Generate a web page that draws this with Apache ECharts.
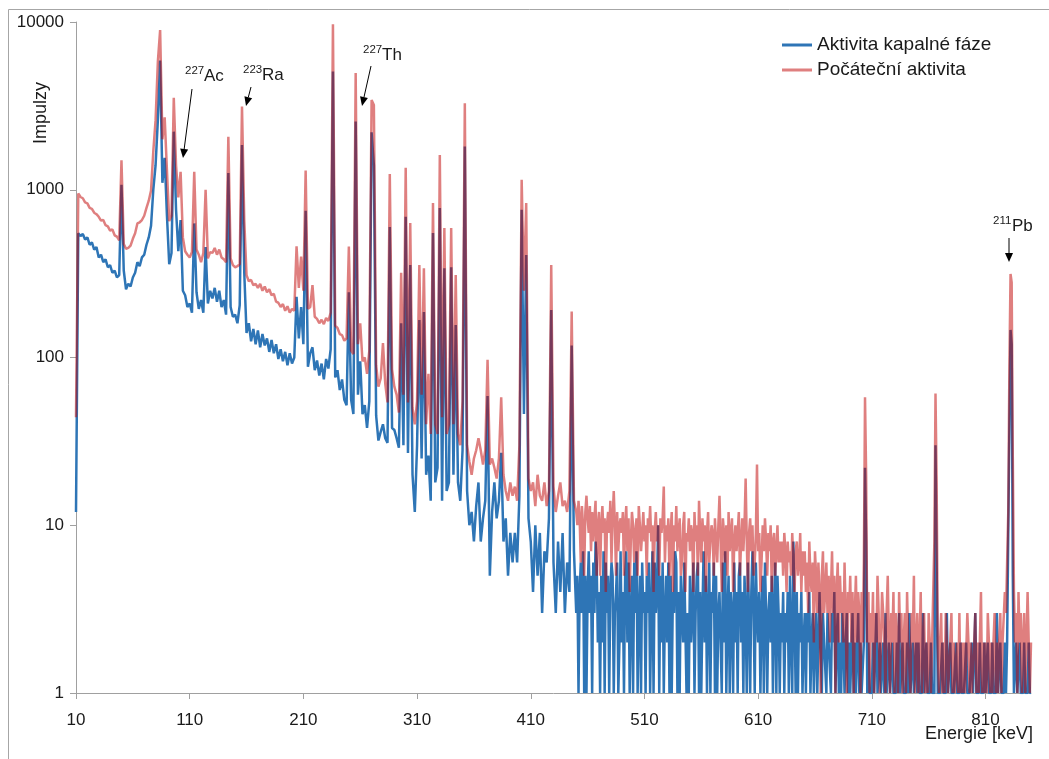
<!DOCTYPE html>
<html>
<head>
<meta charset="utf-8">
<script src="https://cdn.jsdelivr.net/npm/echarts/dist/echarts.min.js"></script>
<style>
  html, body { margin: 0; padding: 0; background: #fff; }
  #chart { width: 1049px; height: 759px; }
</style>
</head>
<body>
<div id="chart"></div>
<script>
const seriesNames = ['Aktivita kapalné fáze', 'Počáteční aktivita'];
const xTicks = [10, 110, 210, 310, 410, 510, 610, 710, 810]; // keV
const yTicks = [1, 10, 100, 1000, 10000];

// 10-448 keV read every 2 keV, 450-850 keV every 1 keV (noisy part)
const lowStart = 10, lowStep = 2;
const highStart = 450, highStep = 1;

const kapalnaLow = [
  12, 550, 530, 545, 505, 520, 470, 485, 440, 455,          // 10
  395, 410, 370, 385, 345, 355, 320, 330, 300, 310,         // 30
  1070, 330, 255, 275, 265, 300, 320, 370, 350, 395,        // 50
  410, 470, 520, 610, 1000, 1400, 2600, 5900, 1100, 1550,   // 70
  700, 360, 420, 2220, 760, 430, 660, 250, 235, 200,        // 90
  210, 185, 630, 245, 195, 220, 185, 455, 210, 250,         // 110
  225, 260, 215, 250, 200, 220, 180, 1260, 200, 175,        // 130
  180, 160, 205, 1850, 320, 140, 160, 125, 148, 120,        // 150
  145, 115, 138, 118, 130, 108, 127, 106, 120, 98,          // 170
  112, 95, 108, 90, 106, 92, 100, 230, 130, 200,            // 190
  120, 750, 88, 106, 115, 84, 96, 78, 92, 74,               // 210
  98, 86, 112, 5060, 76, 84, 64, 74, 56, 52,                // 230
  245, 56, 46, 2550, 60, 95, 46, 52, 38, 55,                // 250
  2200, 1400, 45, 32, 36, 40, 33, 31, 600, 38,              // 270
  37, 33, 29, 160, 30, 690, 27, 356, 20, 12,                // 290
  30, 167, 25, 187, 20, 26, 14, 552, 18, 22,                // 310
  778, 14, 340, 16, 18, 345, 20, 156, 18, 14,               // 330
  28, 1810, 16, 10, 12, 8, 13, 18, 8, 11,                   // 350
  14, 59, 5, 12, 18, 11, 14, 27, 8, 11,                     // 370
  5, 9, 6, 9, 6, 15, 760, 46, 408, 11,                      // 390
  8, 4, 10, 5, 9, 3, 7, 6, 11, 192,                         // 410
  6, 3, 8, 4, 9, 3, 6, 4, 118, 7                            // 430
];

const kapalnaHigh = [
  3, 5, 1, 4, 6, 3, 7, 1, 5, 1, 4, 7, 3, 5, 1, 6, 3, 8, 6, 2,          // 450
  4, 1, 5, 2, 7, 1, 6, 3, 5, 1, 4, 6, 5, 1, 3, 4, 6, 1, 2, 7,          // 470
  2, 4, 1, 5, 7, 2, 6, 1, 3, 5, 1, 6, 3, 7, 1, 3, 5, 1, 6, 3,          // 490
  4, 1, 5, 3, 6, 1, 3, 7, 1, 6, 3, 4, 10, 1, 5, 2, 6, 1, 3, 5,         // 510
  2, 6, 1, 5, 1, 4, 3, 7, 6, 1, 4, 1, 5, 3, 2, 6, 6, 1, 3, 1,          // 530
  5, 2, 3, 6, 1, 3, 5, 6, 1, 4, 1, 3, 7, 2, 5, 1, 3, 6, 1, 4,          // 550
  3, 6, 1, 5, 1, 3, 4, 2, 1, 6, 2, 7, 1, 3, 5, 1, 4, 3, 1, 6,          // 570
  2, 4, 1, 5, 6, 2, 4, 1, 5, 3, 1, 6, 3, 1, 4, 7, 3, 1, 6, 3,          // 590
  2, 4, 1, 3, 5, 1, 6, 3, 1, 3, 4, 2, 5, 1, 3, 6, 1, 5, 3, 1,          // 610
  3, 2, 4, 1, 3, 2, 4, 1, 5, 2, 1, 8, 3, 1, 4, 1, 3, 2, 4, 1,          // 630
  2, 3, 1, 3, 2, 4, 1, 2, 3, 1, 2, 3, 1, 2, 4, 2, 1, 3, 2, 2,          // 650
  1, 3, 2, 2, 1, 3, 2, 4, 1, 2, 3, 1, 2, 1, 3, 2, 1, 2, 3, 1,          // 670
  2, 1, 1, 3, 1, 2, 1, 1, 3, 1, 2, 1, 1, 2, 22, 8, 1, 2, 1, 1,         // 690
  1, 2, 1, 1, 3, 1, 1, 2, 1, 1, 2, 1, 3, 1, 1, 2, 1, 1, 2, 1,          // 710
  1, 1, 2, 1, 3, 1, 1, 2, 1, 1, 1, 2, 1, 3, 1, 1, 2, 1, 1, 2,          // 730
  1, 2, 1, 1, 1, 3, 1, 1, 2, 1, 1, 1, 2, 1, 1, 1, 30, 6, 1, 1,         // 750
  1, 1, 2, 1, 1, 1, 3, 1, 1, 2, 1, 1, 1, 1, 2, 1, 1, 1, 2, 1,          // 770
  1, 1, 1, 2, 1, 1, 1, 1, 2, 1, 1, 3, 1, 1, 1, 2, 1, 1, 1, 2,          // 790
  1, 1, 2, 1, 1, 1, 2, 1, 1, 1, 3, 1, 1, 2, 1, 1, 1, 2, 1, 2,          // 810
  2, 40, 146, 120, 5, 1, 1, 2, 1, 1, 2, 1, 1, 1, 2, 1, 1, 1, 2, 1,     // 830
  1                                                                    // 850
];

const pocatecniLow = [
  44, 950, 905, 890, 840, 830, 780, 770, 730, 715,          // 10
  690, 655, 660, 615, 605, 570, 580, 535, 525, 500,         // 30
  1500, 475, 445, 450, 465, 510, 550, 630, 640, 660,        // 50
  700, 780, 860, 990, 1700, 2600, 5800, 8960, 2000, 2700,   // 70
  1300, 650, 700, 3530, 1400, 900, 1280, 520, 430, 410,     // 90
  395, 425, 1280, 440, 410, 370, 420, 1000, 390, 425,       // 110
  420, 450, 410, 440, 395, 385, 370, 2070, 390, 355,        // 130
  345, 350, 360, 3130, 660, 310, 285, 290, 270, 275,        // 150
  260, 275, 250, 265, 245, 255, 235, 240, 215, 212,         // 170
  200, 208, 190, 202, 185, 195, 190, 460, 260, 400,         // 190
  250, 1300, 195, 200, 270, 175, 170, 160, 168, 158,        // 210
  172, 165, 185, 9700, 155, 150, 138, 136, 126, 130,        // 230
  458, 110, 105, 4965, 120, 160, 95, 100, 80, 110,          // 250
  3430, 3200, 90, 67, 75, 122, 70, 54, 1240, 85,            // 270
  67, 60, 47, 320, 60, 1350, 54, 634, 50, 40,               // 290
  55, 356, 60, 340, 40, 80, 35, 834, 40, 35,                // 310
  1610, 44, 592, 35, 40, 592, 40, 310, 35, 30,              // 330
  55, 3280, 30, 24, 20, 25, 28, 33, 28, 23,                 // 350
  28, 97, 23, 25, 22, 19, 25, 58, 20, 16,                   // 370
  14, 18, 15, 17, 14, 30, 1145, 250, 834, 19,               // 390
  16, 18, 13, 20, 15, 14, 18, 13, 16, 356,                  // 410
  17, 12, 15, 18, 13, 14, 12, 16, 188, 14                   // 430
];

const pocatecniHigh = [
  12, 10, 14, 11, 6, 13, 10, 5, 12, 15, 11, 9, 13, 7, 12, 8, 11, 14, 5, 10,    // 450
  12, 5, 10, 13, 9, 11, 4, 10, 12, 9, 14, 6, 11, 16, 10, 5, 12, 7, 10, 11,     // 470
  9, 12, 5, 10, 13, 7, 11, 4, 8, 12, 10, 6, 9, 11, 5, 13, 10, 7, 9, 12,        // 490
  8, 10, 5, 11, 9, 13, 8, 10, 4, 9, 12, 8, 10, 5, 11, 9, 11, 17, 6, 10,        // 510
  8, 11, 5, 9, 12, 4, 10, 8, 13, 7, 9, 11, 5, 6, 10, 12, 4, 9, 8, 11,          // 530
  7, 10, 9, 4, 12, 8, 10, 5, 14, 9, 6, 11, 8, 10, 4, 9, 12, 6, 8, 10,          // 550
  9, 5, 11, 8, 6, 10, 15, 8, 4, 11, 9, 6, 10, 5, 12, 7, 9, 11, 4, 8,           // 570
  10, 7, 9, 12, 5, 8, 11, 7, 10, 19, 8, 4, 9, 11, 7, 10, 5, 6, 9, 23,          // 590
  7, 9, 4, 6, 10, 7, 11, 8, 5, 9, 7, 10, 4, 8, 9, 5, 7, 10, 6, 8,              // 610
  6, 8, 5, 9, 7, 4, 8, 6, 7, 5, 9, 6, 4, 7, 8, 5, 6, 9, 4, 7,                  // 630
  5, 7, 4, 6, 3, 8, 5, 4, 6, 2, 7, 5, 3, 6, 4, 1, 5, 7, 3, 4,                  // 650
  6, 3, 5, 2, 4, 7, 3, 5, 1, 4, 6, 2, 5, 3, 4, 2, 6, 3, 1, 4,                  // 670
  3, 5, 2, 4, 1, 3, 5, 2, 4, 3, 1, 4, 2, 6, 58, 20, 2, 4, 1, 3,                // 690
  2, 4, 1, 3, 2, 5, 3, 1, 2, 4, 3, 2, 1, 3, 5, 2, 1, 3, 2, 4,                  // 710
  1, 3, 2, 1, 4, 2, 3, 1, 2, 3, 1, 4, 2, 2, 1, 3, 2, 5, 1, 2,                  // 730
  3, 1, 2, 4, 1, 2, 3, 1, 2, 1, 3, 2, 1, 2, 4, 8, 61, 18, 2, 1,                // 750
  2, 3, 1, 2, 1, 3, 2, 1, 1, 2, 3, 1, 2, 1, 1, 2, 1, 3, 1, 2,                  // 770
  1, 2, 1, 1, 3, 2, 1, 2, 1, 1, 2, 3, 1, 2, 1, 2, 4, 1, 2, 1,                  // 790
  2, 1, 3, 2, 1, 2, 1, 2, 3, 1, 2, 1, 2, 3, 1, 2, 2, 4, 3, 6,                  // 810
  12, 90, 315, 280, 25, 4, 2, 3, 1, 4, 2, 3, 1, 2, 3, 1, 2, 4, 2, 1,           // 830
  2                                                                            // 850
];

// nuclide labels
const nuclides = [
  { mass: '227', sym: 'Ac' },
  { mass: '223', sym: 'Ra' },
  { mass: '227', sym: 'Th' },
  { mass: '211', sym: 'Pb' },
];

function toPoints(low, high) {
  const pts = [];
  low.forEach(function (c, i) { pts.push([lowStart + i * lowStep, c]); });
  high.forEach(function (c, i) { pts.push([highStart + i * highStep, c]); });
  return pts;
}

const FONT = '"Liberation Sans", Arial, sans-serif';
const TEXT = '#1a1a1a';
const AXIS = '#a0a0a0';
const BLUE = '#2E75B6';
const PINK = 'rgba(192, 0, 0, 0.5)';

function txt(x, y, s, size, align, extra) {
  return Object.assign({
    type: 'text', x: x, y: y, silent: true,
    style: {
      text: s, fill: TEXT, fontSize: size, fontFamily: FONT,
      align: align || 'left', verticalAlign: 'middle',
      textAlign: align || 'left', textVerticalAlign: 'middle'
    }
  }, extra || {});
}

function arrow(x1, y1, x2, y2) {
  const a = Math.atan2(y2 - y1, x2 - x1);
  const len = 9, half = 4;
  const bx = x2 - len * Math.cos(a), by = y2 - len * Math.sin(a);
  return [
    { type: 'line', silent: true, shape: { x1: x1, y1: y1, x2: bx, y2: by },
      style: { stroke: '#000', lineWidth: 1 } },
    { type: 'polygon', silent: true,
      shape: { points: [[x2, y2],
        [bx + half * Math.sin(a), by - half * Math.cos(a)],
        [bx - half * Math.sin(a), by + half * Math.cos(a)]] },
      style: { fill: '#000' } }
  ];
}

// text anchor and arrow tail/tip, px
const labelPos = [
  { x: 185, y: 76, arrow: [192, 89, 183, 158] },
  { x: 243, y: 75, arrow: [251, 87, 246, 106] },
  { x: 363, y: 55, arrow: [371, 66, 362, 106] },
  { x: 993, y: 226, arrow: [1009, 238, 1009, 262] },
];

const annotations = [];
nuclides.forEach(function (n, i) {
  const p = labelPos[i];
  annotations.push(txt(p.x, p.y - 5, n.mass, 11.5));
  annotations.push(txt(p.x + 19, p.y, n.sym, 17));
  annotations.push.apply(annotations, arrow.apply(null, p.arrow));
});

const chart = echarts.init(document.getElementById('chart'));
chart.setOption({
  animation: false,
  backgroundColor: '#fff',
  textStyle: { fontFamily: FONT },
  grid: { left: 76, right: 18, top: 22, bottom: 66 },
  legend: {
    orient: 'vertical',
    left: 777,
    top: 30,
    icon: 'rect',
    itemWidth: 30,
    itemHeight: 3,
    itemGap: 5,
    textStyle: { fontSize: 19, color: TEXT, lineHeight: 20 },
    data: seriesNames,
  },
  xAxis: {
    type: 'value',
    min: 10,
    max: 850,
    splitLine: { show: false },
    axisLine: { lineStyle: { color: AXIS } },
    axisTick: { length: 6, customValues: xTicks, lineStyle: { color: AXIS } },
    axisLabel: { fontSize: 17, color: TEXT, margin: 19, customValues: xTicks },
  },
  yAxis: {
    type: 'log',
    logBase: 10,
    min: yTicks[0],
    max: yTicks[yTicks.length - 1],
    axisLine: { show: true, lineStyle: { color: AXIS } },
    axisTick: { show: true, length: 6, lineStyle: { color: AXIS } },
    splitLine: { show: false },
    axisLabel: {
      fontSize: 17, color: TEXT, margin: 12,
      formatter: function (v) { return String(Math.round(v)); }
    },
  },
  series: [
    {
      name: seriesNames[0], type: 'line', data: toPoints(kapalnaLow, kapalnaHigh),
      symbol: 'none', showSymbol: false, z: 2,
      itemStyle: { color: BLUE }, lineStyle: { color: BLUE, width: 2.5 },
    },
    {
      name: seriesNames[1], type: 'line', data: toPoints(pocatecniLow, pocatecniHigh),
      symbol: 'none', showSymbol: false, z: 3,
      itemStyle: { color: PINK }, lineStyle: { color: PINK, width: 2.5 },
    },
  ],
  graphic: [
    { type: 'polyline', silent: true,
      shape: { points: [[8.5, 770], [8.5, 9.5], [1060, 9.5]] },
      style: { stroke: '#a6a6a6', lineWidth: 1, fill: null } },
    txt(41, 113, 'Impulzy', 18, 'center', { rotation: Math.PI / 2 }),
    txt(1033, 734, 'Energie [keV]', 18, 'right'),
  ].concat(annotations),
});
</script>
</body>
</html>
